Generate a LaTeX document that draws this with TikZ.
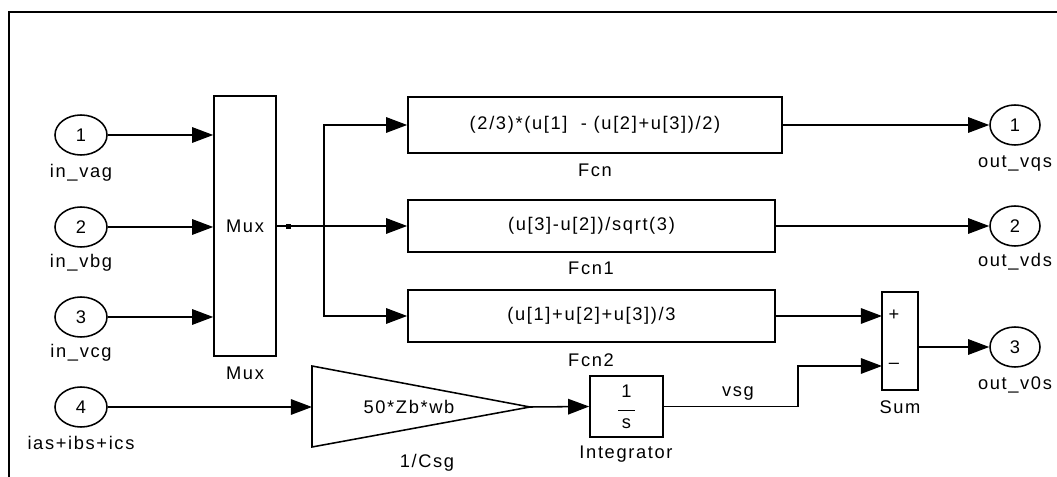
\documentclass[tikz,border=0pt]{standalone}
\usepackage{fontspec}
\setmainfont{Liberation Sans}[LetterSpace=9]
\usepackage{tikz}
\usetikzlibrary{arrows.meta, positioning, shapes.geometric}

\begin{document}
\begin{tikzpicture}[
      x=0.025cm, y=-0.025cm,
      font=\fontsize{13}{15}\selectfont,
      line width=1.1pt,
      sig/.style={-{Triangle[length=15pt, width=11pt]}},
      port/.style={
        ellipse, draw, inner sep=0pt,
        minimum width=1.3cm, minimum height=1.0cm
      },
      block/.style={
        rectangle, draw, inner sep=0pt, align=center
      },
      tag/.style={inner sep=1pt}
    ]
    \useasboundingbox (0,0) rectangle (1057,477);
    \draw[line width=1.6pt] (9,477) -- (9,12) -- (1057,12);

    \node[port] (in1) at (81,135) {1};
    \node[port] (in2) at (81,227) {2};
    \node[port] (in3) at (81,317) {3};
    \node[port] (in4) at (81,407) {4};
    \node[tag] at (81,173) {in\_vag};
    \node[tag] at (81,263) {in\_vbg};
    \node[tag] at (81,353) {in\_vcg};
    \node[tag] at (81,443) {ias+ibs+ics};

    \node[block, minimum width=1.55cm, minimum height=6.5cm] (mux) at (245,226) {Mux};
    \node[tag] at (245,373) {Mux};

    \node[block, minimum width=9.35cm, minimum height=1.4cm] (fcn) at (595,125)
      {(2/3)*(u[1] \ - (u[2]+u[3])/2)};
    \node[block, minimum width=9.175cm, minimum height=1.3cm] (fcn1) at (591.5,226)
      {(u[3]-u[2])/sqrt(3)};
    \node[block, minimum width=9.175cm, minimum height=1.3cm] (fcn2) at (591.5,316)
      {(u[1]+u[2]+u[3])/3};
    \node[tag] at (595,170) {Fcn};
    \node[tag] at (591,268) {Fcn1};
    \node[tag] at (591,360) {Fcn2};

    \coordinate (gainin) at (312,407);
    \coordinate (gainout) at (530,407);
    \draw (312,366) -- (gainout) -- (312,447) -- cycle;
    \node[tag] (gain) at (409,407) {50*Zb*wb};
    \node[tag] at (427,463) {1/Csg};

    \node[block, minimum width=1.825cm, minimum height=1.525cm] (integ) at (626.5,406.5)
      {1\\[-5pt]\rule{12pt}{0.8pt}\\[-3pt]s};
    \node[tag] at (626,454) {Integrator};
    \node[tag] at (738,393) {vsg};

    \node[block, minimum width=0.9cm, minimum height=2.45cm] (sum) at (900,341) {};
    \node[tag] at (894,315) {+};
    \node[tag] at (894,366) {--};
    \node[tag] at (900,407) {Sum};
    \coordinate (splus) at (882,316);
    \coordinate (sminus) at (882,366);
    \coordinate (sout) at (918,347);

    \node[port, minimum width=1.25cm] (out1) at (1015,125) {1};
    \node[port, minimum width=1.25cm] (out2) at (1015,226) {2};
    \node[port, minimum width=1.25cm] (out3) at (1015,347) {3};
    \node[tag] at (1015,163) {out\_vqs};
    \node[tag] at (1015,262) {out\_vds};
    \node[tag] at (1015,385) {out\_v0s};

    \coordinate (br) at (324,226);

    \draw[sig] (in1) -- (in1 -| mux.west);
    \draw[sig] (in2) -- (in2 -| mux.west);
    \draw[sig] (in3) -- (in3 -| mux.west);
    \draw[sig] (in4) -- (gainin);

    \draw (mux.east) -- (br);
    \fill (286,224) rectangle (291,229);
    \draw[sig] (br) -- (fcn1.west);
    \draw[sig] (br) |- (fcn.west);
    \draw[sig] (br) |- (fcn2.west);

    \draw[sig] (fcn.east) -- (out1);
    \draw[sig] (fcn1.east) -- (out2);
    \draw[sig] (fcn2.east) -- (splus);
    \draw[sig] (sout) -- (out3);

    \draw[sig] (gainout) -- (integ.west);
    \draw[sig] (integ.east) -- ++(134,0) |- (sminus);
  \end{tikzpicture}
\end{document}
